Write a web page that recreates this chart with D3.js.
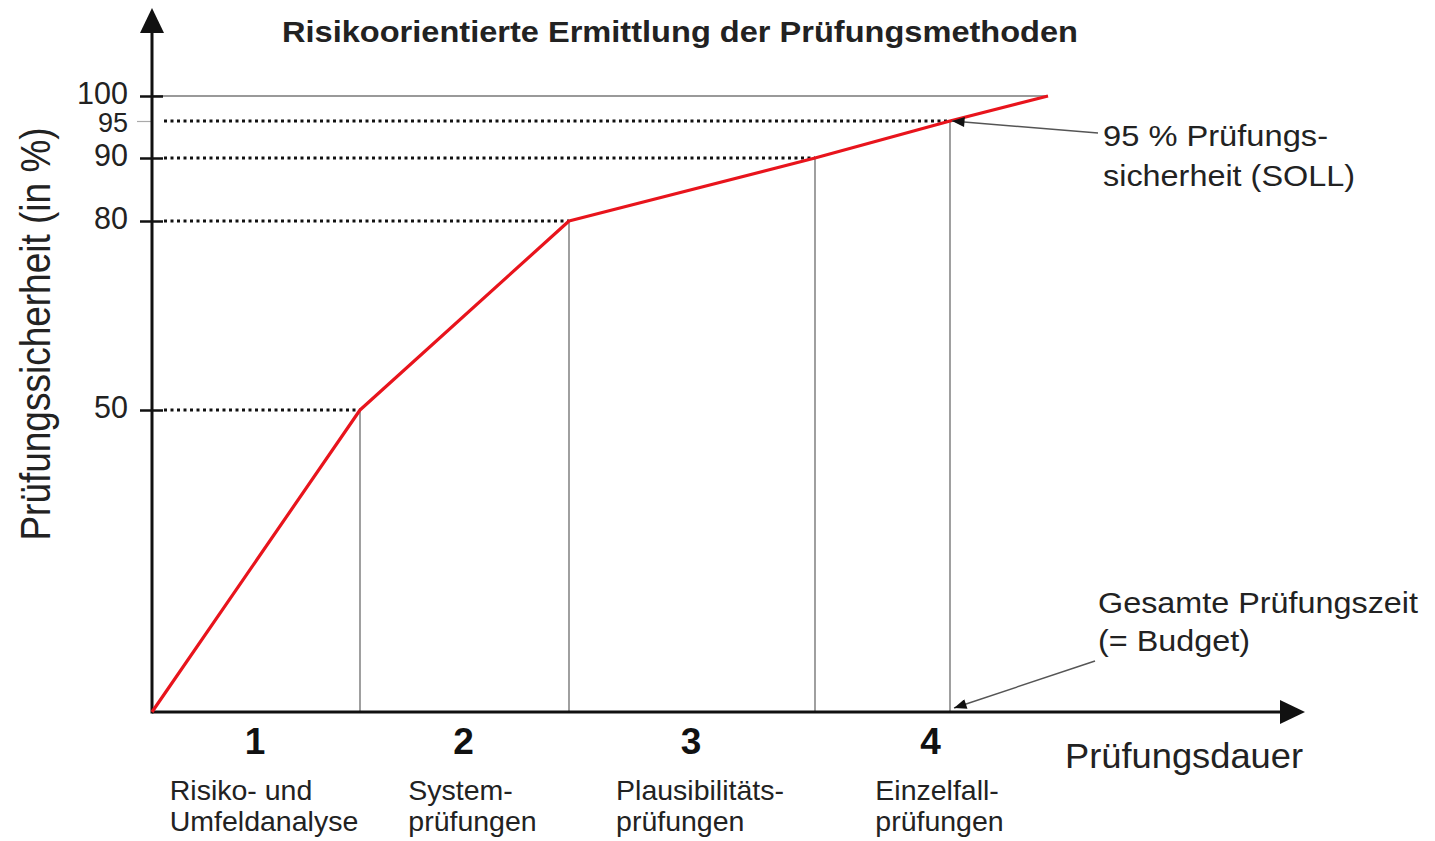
<!DOCTYPE html>
<html>
<head>
<meta charset="utf-8">
<script src="https://cdn.jsdelivr.net/npm/d3@7"></script>
<style>
  body { margin: 0; background: #fff; }
  svg { display: block; font-family: "Liberation Sans", Arial, Helvetica, sans-serif; }
</style>
</head>
<body>
<svg id="chart" width="1435" height="841"></svg>
<script>
// Prüfungssicherheit (in %) über der Prüfungsdauer (relative Einheiten)
const dauer = [0, 2.08, 4.17, 6.63, 7.98, 8.96];
const sicherheit = [0, 50, 80, 90, 95, 100];
const yTicks = [50, 80, 90, 95, 100];
const sollWert = 95;

// Phasen der Prüfung
const phaseNr = ['1', '2', '3', '4'];
const phaseStart = [0, 2.08, 4.17, 6.63];
const phaseEnd = [2.08, 4.17, 6.63, 8.96];
const phaseText = [
    ['Risiko- und', 'Umfeldanalyse'],
    ['System-', 'prüfungen'],
    ['Plausibilitäts-', 'prüfungen'],
    ['Einzelfall-', 'prüfungen']
];

const svg = d3.select('#chart');
const ink = '#222';

// x: linear, y: piecewise (the drawing stretches the upper range)
const x = d3.scaleLinear().domain([0, 11.53]).range([152, 1305]);
const y = d3.scaleLinear()
    .domain([0, 50, 80, 90, 95, 100])
    .range([712, 410, 221, 158, 121, 96]);

const points = dauer.map((d, i) => ({ d: d, s: sicherheit[i] }));
const inner = points.filter(p => p.s > 0 && p.s < 100);
const endPoint = points[points.length - 1];
const soll = points.find(p => p.s === sollWert);

// markers for the annotation arrows
svg.append('defs').append('marker')
    .attr('id', 'tip')
    .attr('viewBox', '0 0 10 8')
    .attr('refX', 10).attr('refY', 4)
    .attr('markerWidth', 15).attr('markerHeight', 10)
    .attr('markerUnits', 'userSpaceOnUse')
    .attr('orient', 'auto')
    .append('path').attr('d', 'M0,0L10,4L0,8Z').attr('fill', '#111');

// 100 % line
svg.append('line')
    .attr('x1', x(0)).attr('x2', x(endPoint.d))
    .attr('y1', y(100)).attr('y2', y(100))
    .attr('stroke', '#777').attr('stroke-width', 1.5);

// dotted guides to the curve
svg.selectAll('line.guide').data(inner).enter().append('line')
    .attr('class', 'guide')
    .attr('x1', x(0) + 12).attr('x2', p => x(p.d))
    .attr('y1', p => y(p.s)).attr('y2', p => y(p.s))
    .attr('stroke', '#111').attr('stroke-width', 3)
    .attr('stroke-dasharray', '3,3.5');

// vertical drops
svg.selectAll('line.drop').data(inner).enter().append('line')
    .attr('class', 'drop')
    .attr('x1', p => x(p.d)).attr('x2', p => x(p.d))
    .attr('y1', p => y(p.s)).attr('y2', y(0))
    .attr('stroke', '#888').attr('stroke-width', 1.6);

// y axis with crossing ticks
const yAxis = d3.axisLeft(y).tickValues(yTicks).tickSizeInner(12).tickSizeOuter(0).tickPadding(12);
const gy = svg.append('g').attr('transform', `translate(${x(0)},0)`).call(yAxis);
gy.attr('font-family', null).attr('font-size', null);
gy.select('.domain').remove();
gy.selectAll('.tick line')
    .attr('x1', d => d === sollWert ? 0 : 11)
    .attr('x2', d => d === sollWert ? -15 : -12)
    .attr('stroke', d => d === sollWert ? '#aaa' : '#111')
    .attr('stroke-width', d => d === sollWert ? 1.2 : 2.5);
gy.selectAll('.tick text')
    .attr('font-size', d => d === sollWert ? 27 : 30.5)
    .attr('fill', ink)
    .attr('dy', d => d === sollWert ? '0.4em' : '0.25em');

// axis lines and arrow heads
svg.append('line')
    .attr('x1', x(0)).attr('x2', x(0))
    .attr('y1', y(0) + 1.5).attr('y2', 22)
    .attr('stroke', '#111').attr('stroke-width', 3);
svg.append('path')
    .attr('d', `M${x(0)},8L${x(0) - 12},33L${x(0) + 12},33Z`)
    .attr('fill', '#111');
svg.append('line')
    .attr('x1', x(0)).attr('x2', x.range()[1] - 15)
    .attr('y1', y(0)).attr('y2', y(0))
    .attr('stroke', '#111').attr('stroke-width', 3);
svg.append('path')
    .attr('d', `M${x.range()[1]},${y(0)}L${x.range()[1] - 25},${y(0) - 12}L${x.range()[1] - 25},${y(0) + 12}Z`)
    .attr('fill', '#111');

// the curve
const line = d3.line().x(p => x(p.d)).y(p => y(p.s));
svg.append('path')
    .datum(points)
    .attr('d', line)
    .attr('fill', 'none')
    .attr('stroke', '#e8141c')
    .attr('stroke-width', 3.2)
    .attr('stroke-linejoin', 'round');

// texts
function text(px, py, str, size, len, weight) {
    let t = svg.append('text')
        .attr('x', px).attr('y', py)
        .attr('font-size', size)
        .attr('fill', ink)
        .text(str);
    if (weight) t.attr('font-weight', weight);
    if (len) t.attr('textLength', len).attr('lengthAdjust', 'spacingAndGlyphs');
    return t;
}

text(282, 42, 'Risikoorientierte Ermittlung der Prüfungsmethoden', 29.5, 796, 'bold');
text(1065, 768, 'Prüfungsdauer', 35, 238);

svg.append('text')
    .attr('transform', 'translate(50,334) scale(1.15,1) rotate(-90)')
    .attr('text-anchor', 'middle')
    .attr('font-size', 37)
    .attr('fill', ink)
    .text('Prüfungssicherheit (in %)');

text(1103, 146, '95 % Prüfungs-', 30, 225);
text(1103, 186, 'sicherheit (SOLL)', 30, 252);
text(1098, 613, 'Gesamte Prüfungszeit', 30, 320);
text(1098, 651, '(= Budget)', 30, 152);

// annotation arrows
svg.append('line')
    .attr('x1', 1098).attr('y1', 133)
    .attr('x2', x(soll.d) + 2).attr('y2', y(soll.s))
    .attr('stroke', '#555').attr('stroke-width', 1.5)
    .attr('marker-end', 'url(#tip)');
svg.append('line')
    .attr('x1', 1095).attr('y1', 661)
    .attr('x2', x(soll.d) + 4).attr('y2', y(0) - 4)
    .attr('stroke', '#555').attr('stroke-width', 1.5)
    .attr('marker-end', 'url(#tip)');

// phase numbers and names
phaseNr.forEach((nr, i) => {
    let mid = (x(phaseStart[i]) + x(phaseEnd[i])) / 2;
    svg.append('text')
        .attr('x', mid - 1).attr('y', 754)
        .attr('text-anchor', 'middle')
        .attr('font-size', 37).attr('font-weight', 'bold')
        .attr('fill', '#111')
        .text(nr);
    let g = svg.append('g');
    phaseText[i].forEach((s, j) => {
        g.append('text')
            .attr('x', 0).attr('y', 800 + j * 31)
            .attr('font-size', 28.5)
            .attr('fill', ink)
            .text(s);
    });
    let w = d3.max(g.selectAll('text').nodes(), n => n.getComputedTextLength());
    g.attr('transform', `translate(${mid + 8 - w / 2},0)`);
});
</script>
</body>
</html>
